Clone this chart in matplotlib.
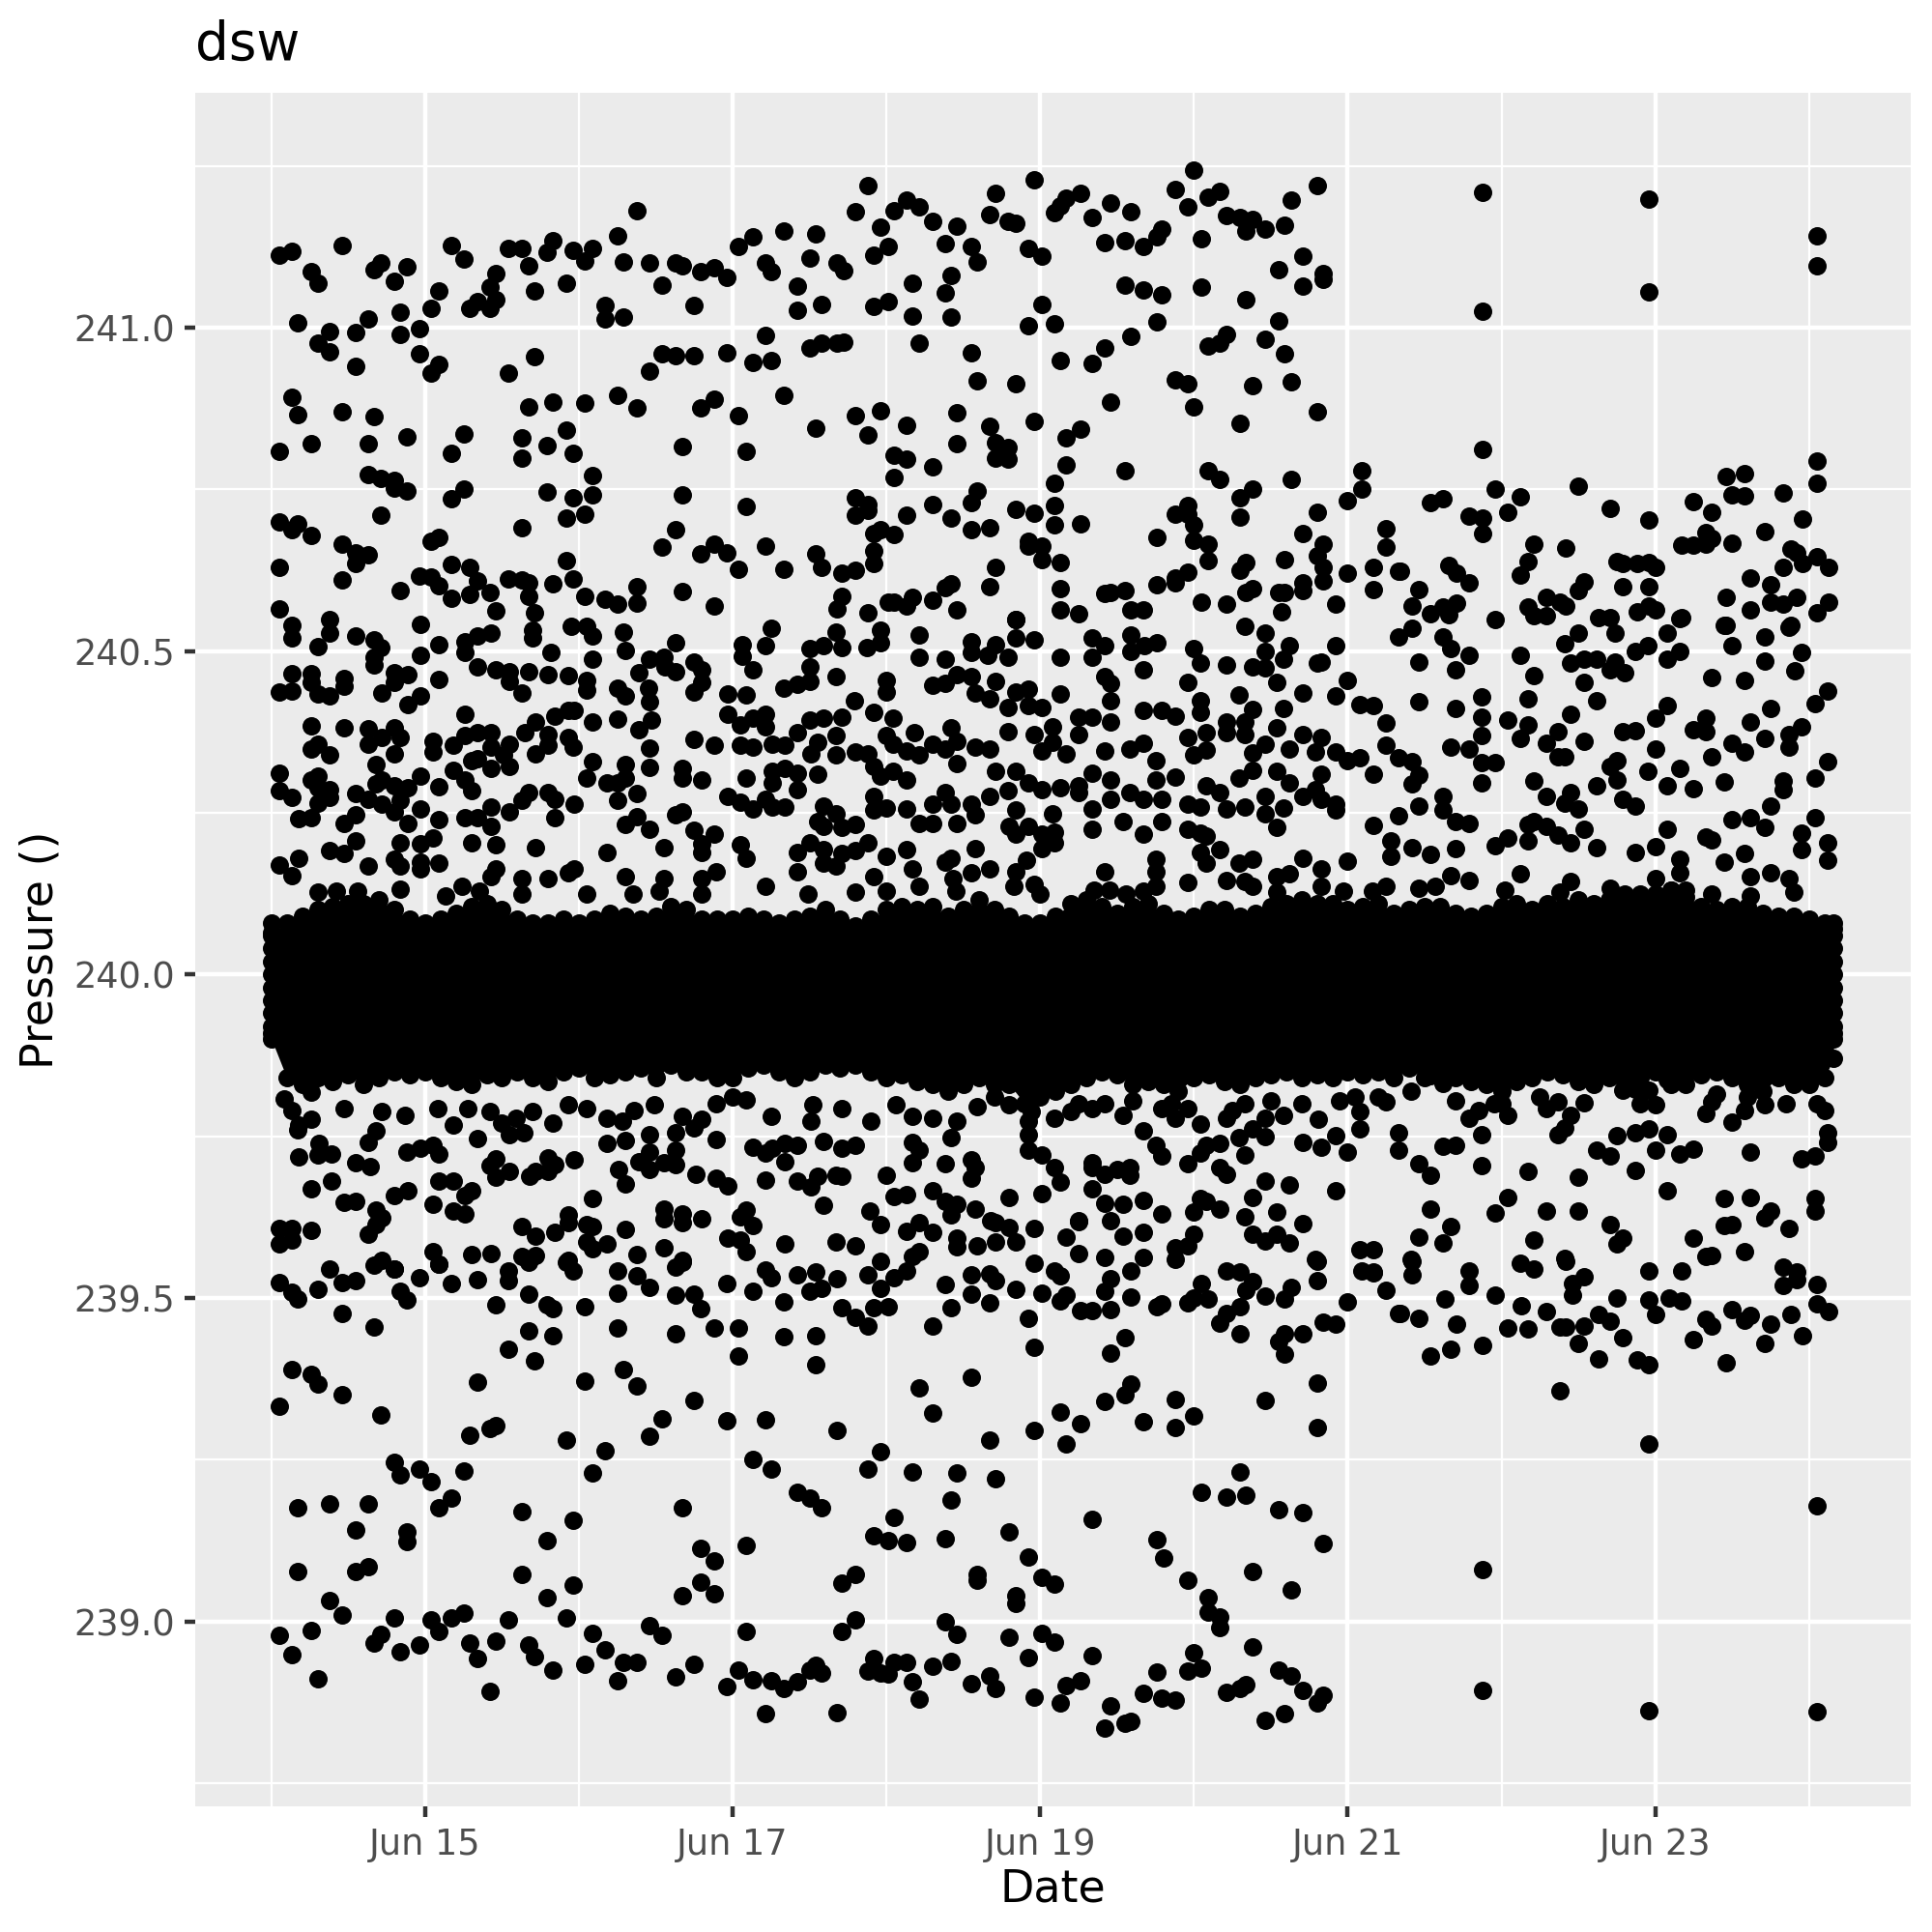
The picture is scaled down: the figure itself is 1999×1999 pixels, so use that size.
import numpy as np
import matplotlib
matplotlib.use("Agg")
import matplotlib.pyplot as plt

# (day of June, pressure), split by region
top_a = [(14.05,241.112),(14.13,241.118),(14.46,241.127),(14.26,241.086),(14.30,241.069),(14.67,241.09),(14.71,241.10),(14.88,241.094),(14.80,241.071),(15.17,241.127),(15.25,241.106),(15.09,241.056),(15.04,241.03),(15.54,241.123),(15.63,241.123),(15.83,241.135),(15.79,241.116),(15.67,241.096),(15.71,241.056),(15.92,241.068),(15.96,241.12),(16.09,241.122),(16.04,241.103),(15.46,241.083),(15.42,241.063),(15.46,241.044),(15.34,241.04),(15.29,241.03),(15.42,241.03),(16.25,241.142),(16.38,241.18),(16.29,241.102),(16.46,241.10),(16.63,241.10),(16.67,241.096),(16.54,241.065),(16.79,241.087),(16.88,241.092),(16.96,241.077),(16.75,241.034),(16.17,241.034),(16.17,241.014),(16.29,241.016),(17.04,241.125),(17.13,241.141),(17.21,241.10),(17.25,241.086),(17.33,241.149),(17.54,241.145),(17.50,241.107),(17.42,241.064),(17.42,241.027),(17.58,241.036),
(14.17,241.008),(14.38,240.994),(14.30,240.976),(14.38,240.962),(14.55,240.993),(14.63,241.013),(14.55,240.94),(14.84,241.024),(14.84,240.989),(14.96,240.998),(14.96,240.96),(15.09,240.943),(15.04,240.93),(15.54,240.93),(15.71,240.955),(16.54,240.959),(16.63,240.957),(16.75,240.956),(16.46,240.933),(16.96,240.961),(17.13,240.946),(17.25,240.949),(17.21,240.988),(17.50,240.969),(17.58,240.976),(14.13,240.893),(14.17,240.865),(14.46,240.87),(14.67,240.862),(14.26,240.821),(14.05,240.809),(14.63,240.821),(14.88,240.831),(15.25,240.835),(15.17,240.805),(15.67,240.878),(15.83,240.885),(16.04,240.884),(16.25,240.895),(16.38,240.876),(16.88,240.89),(16.79,240.876),(17.33,240.895),(17.04,240.864),(17.54,240.844),(15.63,240.83),(15.63,240.798),(15.79,240.817),(15.92,240.842),(15.96,240.806),(16.09,240.772),(16.09,240.741),(15.96,240.737),(15.79,240.746),(16.04,240.712),(15.92,240.705),(15.63,240.69),(16.67,240.816),(17.09,240.809),(16.67,240.741),(17.09,240.724),(16.63,240.687),(16.54,240.661),
(14.63,240.773),(14.71,240.767),(14.80,240.764),(14.80,240.752),(14.88,240.748),(15.17,240.736),(15.25,240.75),(14.71,240.71),(14.05,240.70),(14.17,240.696),(14.13,240.688),(14.26,240.678),(14.46,240.666),(14.55,240.652),(14.63,240.649),(14.55,240.635),(15.04,240.67),(15.09,240.676),(14.05,240.63),(14.46,240.61),(14.84,240.594),(14.96,240.616),(15.04,240.615),(15.09,240.601),(15.17,240.634),(15.29,240.63),(15.34,240.608),(15.29,240.588),(15.17,240.581),(15.42,240.59),(15.46,240.562),(15.54,240.612),(15.63,240.61),(15.67,240.605),(15.67,240.584),(15.71,240.559),(15.83,240.604),(15.96,240.612),(15.92,240.64),(16.04,240.585),(16.17,240.58),(16.25,240.573),(16.38,240.60),(16.38,240.574),(16.67,240.592),(16.88,240.666),(16.79,240.651),(16.96,240.652),(17.04,240.626),(17.21,240.663),(17.33,240.627),(17.54,240.65),(17.58,240.63),(16.88,240.57),(14.05,240.565)]

top_b = [(17.88,241.219),(17.80,241.179),(17.96,241.156),(18.05,241.18),(18.13,241.197),(18.21,241.186),(18.30,241.164),(18.46,241.157),(18.38,241.13),(18.55,241.126),(18.59,241.101),(17.92,241.112),(18.01,241.125),(17.68,241.10),(17.72,241.088),(18.17,241.068),(18.42,241.08),(18.38,241.053),(17.92,241.033),(18.01,241.04),(18.17,241.018),(18.42,241.017),(18.71,241.208),(18.67,241.174),(18.79,241.164),(18.84,241.162),(18.96,241.228),(18.92,241.123),(19.01,241.111),(19.09,241.178),(19.13,241.188),(19.17,241.20),(19.26,241.208),(19.34,241.171),(19.46,241.192),(19.59,241.179),(19.42,241.131),(19.55,241.134),(19.67,241.125),(19.76,241.14),(19.79,241.152),(19.88,241.214),(20.00,241.243),(19.96,241.187),(20.09,241.201),(20.17,241.21),(20.05,241.138),(20.21,241.173),(20.30,241.171),(20.38,241.167),(20.34,241.149),(20.46,241.153),(20.59,241.159),(20.63,241.197),(20.80,241.219),(20.71,241.11),(20.55,241.09),(20.71,241.064),(20.84,241.083),(20.84,241.074),(19.55,241.066),(19.67,241.058),(19.79,241.051),(20.05,241.062),(20.34,241.044),(20.55,241.01),(19.76,241.009),(19.59,240.987),(19.01,241.036),(18.92,241.003),(19.09,241.006),(17.68,240.976),(17.72,240.978),(18.21,240.976),(18.55,240.961),(18.59,240.918),(18.84,240.914),(19.13,240.949),(19.34,240.945),(19.42,240.968),(20.09,240.971),(20.17,240.976),(20.21,240.989),(20.46,240.982),(20.59,240.96),(19.88,240.919),(19.96,240.913),(20.38,240.911),(20.63,240.916),(19.46,240.885),(20.00,240.877),(20.30,240.852),(20.80,240.87),
(17.80,240.864),(17.96,240.872),(17.88,240.834),(18.13,240.849),(18.46,240.868),(18.46,240.82),(18.67,240.847),(18.71,240.822),(18.79,240.814),(18.71,240.798),(18.79,240.797),(18.96,240.855),(19.17,240.83),(19.26,240.843),(19.17,240.788),(19.09,240.759),(18.05,240.802),(18.13,240.797),(18.30,240.785),(18.05,240.769),(19.55,240.779),(20.09,240.779),(20.17,240.766),(20.63,240.766),(21.09,240.779),(21.09,240.75),(21.00,240.733),(18.59,240.747),(18.55,240.729),(18.30,240.727),(17.80,240.737),(17.88,240.726),(17.80,240.71),(17.88,240.717),(18.13,240.71),(18.42,240.706),(18.55,240.688),(18.67,240.691),(18.84,240.719),(18.96,240.713),(19.09,240.725),(19.09,240.695),(19.26,240.696),(17.92,240.682),(17.96,240.687),(18.05,240.68),(17.92,240.655),(17.92,240.636),(17.71,240.62),(17.80,240.625),(18.92,240.67),(19.01,240.662),(18.92,240.662),(19.01,240.642),(19.13,240.637),(18.71,240.629),(18.67,240.60),(18.42,240.604),(18.38,240.598),(19.13,240.597),(19.13,240.564),(18.30,240.578),(18.17,240.583),(18.13,240.569),(18.01,240.576),(18.05,240.576),(18.46,240.564),(17.88,240.559),(17.71,240.585),(17.68,240.565),
(19.76,240.676),(19.88,240.712),(19.96,240.725),(19.96,240.712),(20.00,240.695),(20.00,240.671),(20.09,240.666),(20.09,240.64),(19.96,240.622),(19.88,240.613),(19.88,240.605),(19.76,240.603),(19.55,240.594),(19.46,240.591),(19.42,240.589),(20.30,240.737),(20.38,240.75),(20.30,240.707),(20.80,240.715),(20.71,240.682),(20.84,240.665),(20.80,240.647),(20.84,240.63),(20.59,240.641),(20.34,240.637),(20.30,240.625),(20.84,240.608),(20.71,240.605),(20.71,240.593),(20.59,240.59),(20.55,240.59),(20.38,240.597),(20.34,240.591),(20.05,240.576),(20.21,240.573),(20.92,240.573),(21.00,240.621),(21.17,240.629),(21.17,240.595),(21.25,240.689),(21.25,240.661),(21.34,240.623),(20.57,240.56),(19.25,240.558),(19.67,240.563),(19.59,240.563),(18.84,240.549)]

top_c = [(21.88,241.209),(21.88,241.025),(21.88,240.811),(22.96,241.199),(22.96,241.055),(24.05,241.142),(24.05,241.096),(24.05,240.794),(24.05,240.76),(21.96,240.75),(22.12,240.739),(22.04,240.714),(21.54,240.73),(21.62,240.736),(21.79,240.709),(21.88,240.706),(21.88,240.682),(22.50,240.755),(22.71,240.721),(22.96,240.702),(23.25,240.731),(23.37,240.715),(23.46,240.77),(23.58,240.774),(23.50,240.741),(23.58,240.74),(23.83,240.745),(23.96,240.704),(23.71,240.684),(23.33,240.683),(23.37,240.674),(23.17,240.664),(23.25,240.664),(23.33,240.665),(23.50,240.667),(22.21,240.666),(22.42,240.66),(22.17,240.639),(22.12,240.617),(21.66,240.633),(21.71,240.62),(21.79,240.606),(21.33,240.624),(21.46,240.595),(21.42,240.569),(21.71,240.574),(21.62,240.568),(21.54,240.558),(21.66,240.556),(21.96,240.549),(22.54,240.607),(22.50,240.593),(22.29,240.583),(22.17,240.568),(22.21,240.555),(22.29,240.555),(22.38,240.575),(22.42,240.57),(22.75,240.639),(22.79,240.635),(22.88,240.635),(22.96,240.637),(23.0,240.629),(22.79,240.599),(22.96,240.599),(22.88,240.561),(22.96,240.57),(23.0,240.564),(22.63,240.552),(22.71,240.552),(23.17,240.552),(23.46,240.583),(23.62,240.613),(23.75,240.603),(23.62,240.564),(23.75,240.576),(23.83,240.572),(23.92,240.583),(23.83,240.629),(23.88,240.658),(23.92,240.652),(23.96,240.635),(24.05,240.646),(24.13,240.629),(24.13,240.576),(24.05,240.559),(23.88,240.54),(23.46,240.54)]

mid_upper_a = [(14.13,240.54),(14.13,240.521),(14.38,240.548),(14.38,240.528),(14.30,240.507),(14.55,240.524),(14.67,240.518),(14.71,240.505),(14.67,240.491),(14.67,240.478),(14.97,240.541),(14.97,240.493),(15.09,240.51),(15.26,240.515),(15.26,240.498),(15.34,240.523),(15.43,240.528),(15.34,240.476),(15.46,240.471),(15.55,240.468),(15.55,240.453),(15.63,240.435),(15.67,240.468),(15.80,240.463),(15.93,240.462),(16.05,240.455),(16.05,240.44),(15.82,240.498),(15.70,240.533),(15.70,240.52),(15.95,240.538),(16.05,240.538),(16.09,240.523),(16.09,240.487),(16.29,240.529),(16.30,240.501),(16.63,240.513),(16.46,240.488),(16.55,240.491),(16.56,240.476),(16.39,240.467),(16.63,240.468),(16.75,240.483),(16.80,240.471),(16.80,240.451),(16.75,240.437),(16.45,240.443),(16.46,240.421),(16.25,240.443),(16.30,240.43),(14.13,240.465),(14.26,240.465),(14.47,240.458),(14.47,240.446),(14.26,240.451),(14.05,240.436),(14.13,240.438),(14.30,240.433),(14.38,240.431),(14.80,240.466),(14.89,240.463),(14.80,240.451),(14.72,240.435),(14.97,240.43),(14.89,240.417),(15.09,240.456),(17.06,240.51),(17.06,240.492),(17.13,240.471),(16.97,240.433),(17.09,240.432),(17.21,240.508),(17.25,240.535),(17.50,240.476),(17.50,240.453),(17.42,240.448),(17.33,240.443),(17.67,240.461),(17.67,240.529),(17.71,240.505),(17.59,240.508),(17.50,240.504),(17.96,240.533),(17.96,240.513),(17.87,240.505),(18.00,240.455),(18.00,240.437),(18.21,240.525),(18.21,240.491),(18.38,240.488),(18.55,240.515),(18.55,240.498),(18.66,240.493),(18.71,240.51),(18.79,240.491),(18.84,240.52),(18.96,240.517),(19.13,240.49),(18.84,240.549),(18.30,240.447),(18.38,240.45),(18.46,240.463),(18.55,240.461),(18.71,240.453),(18.58,240.435),(18.67,240.426),(18.79,240.413),(18.84,240.437),(18.92,240.441),(18.92,240.416),(19.01,240.413),(19.13,240.433),(17.79,240.423),(17.92,240.405),(18.04,240.396),(17.71,240.398),(17.59,240.396),(17.50,240.393),
(15.26,240.403),(14.26,240.384),(14.47,240.381),(14.63,240.38),(14.80,240.381),(14.84,240.367),(14.63,240.356),(14.72,240.366),(14.80,240.341),(14.30,240.356),(14.26,240.348),(14.38,240.339),(14.68,240.324),(15.05,240.36),(15.05,240.344),(15.18,240.354),(15.26,240.369),(15.34,240.374),(15.43,240.374),(15.55,240.356),(15.65,240.374),(15.72,240.391),(15.84,240.399),(15.93,240.408),(15.97,240.408),(15.80,240.371),(15.93,240.367),(15.96,240.352),(15.80,240.354),(15.72,240.341),(15.43,240.351),(15.51,240.339),(15.34,240.334),(15.30,240.331),(15.43,240.319),(15.55,240.321),(16.09,240.39),(16.25,240.395),(16.39,240.378),(16.47,240.393),(16.75,240.363),(16.88,240.355),(16.46,240.35),(17.05,240.354),(17.13,240.351),(17.26,240.356),(17.34,240.355),(17.42,240.374),(17.55,240.359),(17.67,240.369),(17.67,240.339),(17.80,240.344),(17.88,240.341),(17.51,240.341),(16.97,240.402),(17.05,240.386),(17.13,240.396),(17.21,240.403),(17.21,240.383),(18.00,240.369),(18.04,240.356),(18.18,240.374),(18.13,240.346),(18.21,240.339),(18.30,240.356),(18.38,240.349),(18.42,240.382),(18.46,240.361),(18.58,240.351),(18.67,240.349),(18.79,240.376),(18.96,240.371),(19.01,240.346),(19.08,240.383),(19.08,240.359),(19.17,240.341),(19.25,240.398)]

mid_upper_b = [(14.05,240.311),(14.30,240.306),(14.26,240.301),(14.05,240.284),(14.13,240.274),(14.30,240.289),(14.38,240.286),(14.38,240.274),(14.30,240.265),(14.55,240.28),(14.68,240.294),(14.72,240.301),(14.80,240.291),(14.89,240.289),(14.63,240.271),(14.72,240.264),(14.84,240.269),(14.80,240.251),(14.97,240.307),(15.18,240.316),(15.26,240.301),(15.09,240.29),(15.30,240.284),(14.97,240.256),(15.43,240.259),(15.55,240.252),(15.67,240.281),(15.63,240.269),(15.80,240.281),(15.84,240.271),(15.97,240.264),(15.84,240.243),(16.09,240.329),(16.05,240.304),(16.18,240.296),(16.25,240.296),(16.30,240.324),(16.30,240.304),(16.46,240.32),(16.38,240.28),(16.25,240.269),(16.67,240.319),(16.67,240.304),(16.80,240.301),(17.09,240.304),(17.26,240.314),(17.34,240.319),(17.26,240.296),(17.42,240.311),(17.55,240.31),(17.42,240.286),(16.97,240.276),(17.05,240.266),(17.13,240.256),(17.21,240.271),(17.26,240.259),(17.34,240.259),(17.92,240.321),(17.96,240.306),(18.04,240.314),(18.13,240.30),(17.92,240.276),(17.92,240.254),(18.00,240.258),(18.13,240.256),(18.30,240.264),(18.38,240.281),(18.42,240.264),(18.46,240.326),(18.55,240.264),(18.67,240.276),(18.71,240.314),(18.84,240.314),(18.79,240.284),(18.92,240.296),(19.01,240.286),(19.13,240.289),(19.25,240.281),(18.84,240.254),
(14.18,240.241),(14.26,240.242),(14.47,240.234),(14.55,240.247),(14.89,240.234),(15.09,240.239),(15.26,240.242),(15.34,240.242),(15.43,240.229),(16.38,240.244),(16.30,240.232),(16.46,240.224),(16.63,240.247),(16.67,240.252),(16.75,240.223),(16.88,240.217),(17.59,240.261),(17.67,240.249),(17.55,240.237),(17.59,240.229),(17.71,240.227),(17.80,240.232),(18.21,240.233),(18.30,240.234),(18.46,240.233),(18.58,240.247),(18.80,240.229),(18.84,240.217),(18.92,240.229),(19.08,240.249),(19.01,240.217),(19.09,240.22),(14.55,240.206),(14.38,240.192),(14.47,240.187),(14.84,240.203),(15.05,240.211),(14.97,240.202),(15.30,240.204),(15.46,240.201),(15.72,240.196),(16.18,240.188),(16.55,240.196),(16.80,240.202),(16.80,240.189),(17.05,240.201),(17.09,240.179),(17.42,240.188),(17.50,240.204),(17.59,240.193),(17.71,240.187),(17.80,240.192),(17.88,240.204),(18.00,240.183),(18.13,240.193),(18.58,240.194),(19.01,240.194),(19.09,240.204),(18.91,240.177),(14.18,240.179),(14.05,240.169),(14.13,240.153),(14.63,240.168),(14.80,240.178),(14.84,240.167),(14.97,240.174),(14.97,240.164),(15.09,240.172),(15.46,240.164),(15.43,240.152),(15.63,240.148),(15.80,240.149),(15.93,240.157),(15.97,240.163),(16.30,240.152),(16.55,240.149),(16.89,240.159),(16.80,240.149),(17.42,240.159),(17.59,240.172),(17.67,240.167),(18.17,240.163),(17.92,240.152),(18.38,240.174),(18.42,240.179),(18.55,240.158),(18.67,240.163),(18.84,240.159),(18.43,240.148),(17.21,240.137),(18.96,240.139),(14.84,240.132),(15.24,240.137),
(14.30,240.127),(14.42,240.129),(14.56,240.129),(15.13,240.122),(15.35,240.129),(15.63,240.125),(16.05,240.125),(16.35,240.125),(16.52,240.129),(16.80,240.125),(17.49,240.125),(17.80,240.127),(18.0,240.129),(18.21,240.137),(18.45,240.129),(18.83,240.137),(19.0,240.124)]

mid_upper_c = [(19.34,240.52),(19.42,240.509),(19.59,240.525),(19.59,240.5),(19.68,240.509),(19.76,240.513),(19.34,240.491),(19.67,240.471),(19.42,240.461),(19.46,240.45),(20.0,240.504),(20.04,240.482),(19.96,240.451),(20.33,240.538),(20.46,240.528),(20.46,240.5),(20.62,240.509),(20.58,240.488),(20.21,240.478),(20.38,240.476),(20.46,240.474),(20.54,240.451),(20.80,240.481),(20.83,240.483),(20.92,240.509),(20.71,240.435),(20.92,240.431),(21.0,240.455),(20.29,240.432),(20.04,240.423),(19.46,240.423),(19.67,240.408),(19.79,240.408),(19.88,240.399),(20.04,240.406),(20.58,240.412),(20.38,240.41),(21.08,240.417),(21.17,240.416),(21.25,240.389),(21.33,240.522),(21.42,240.535),(21.62,240.522),(21.67,240.504),(21.79,240.494),(21.46,240.483),(21.70,240.471),(22.12,240.494),(22.21,240.462),(22.41,240.512),(22.50,240.528),(22.74,240.528),(22.45,240.481),(22.54,240.488),(22.62,240.487),(22.74,240.483),(22.71,240.471),(22.80,240.466),(22.54,240.452),(22.62,240.423),(22.87,240.499),(22.95,240.508),(23.08,240.487),(23.16,240.499),(23.08,240.528),(23.16,240.55),(23.50,240.509),(23.71,240.522),(23.45,240.54),(23.87,240.537),(23.95,240.498),(23.71,240.484),(23.91,240.469),(23.37,240.459),(23.58,240.455),(21.46,240.422),(21.70,240.412),(21.87,240.429),(22.17,240.426),(21.87,240.398),(22.04,240.394),(22.17,240.386),(22.12,240.365),(22.45,240.403),(22.37,240.376),(22.29,240.358),(22.54,240.36),(21.87,240.37),(21.67,240.351),(21.79,240.349),(21.87,240.328),(21.96,240.328),(22.41,240.336),(22.37,240.336),(23.08,240.416),(23.0,240.397),(22.79,240.376),(22.87,240.377),(23.0,240.349),(23.33,240.397),(23.25,240.379),(23.33,240.376),(23.62,240.391),(23.75,240.411),(24.04,240.419),(24.12,240.438),(23.95,240.383),(23.87,240.371),(23.87,240.351),(23.71,240.365),(23.50,240.357),(23.58,240.344),(23.37,240.336),(22.75,240.331),(22.71,240.321),
(19.25,240.371),(19.46,240.39),(19.34,240.398),(19.42,240.346),(19.58,240.349),(19.67,240.358),(19.75,240.331),(19.96,240.367),(20.08,240.374),(20.0,240.339),(20.08,240.347),(20.21,240.391),(20.21,240.374),(20.33,240.391),(20.33,240.371),(20.46,240.356),(20.38,240.343),(20.54,240.381),(20.62,240.348),(20.71,240.371),(20.79,240.344),(20.83,240.366),(20.92,240.344),(21.0,240.33),(21.08,240.335),(21.25,240.354),(21.33,240.335),(21.42,240.329),(21.46,240.308),(21.17,240.31),(21.42,240.294)]

mid_upper_d = [(19.34,240.311),(19.46,240.301),(19.25,240.291),(19.46,240.271),(19.58,240.282),(19.67,240.271),(19.75,240.301),(19.79,240.271),(19.88,240.305),(20.08,240.292),(20.17,240.282),(19.96,240.264),(20.04,240.259),(20.21,240.256),(20.33,240.259),(20.38,240.316),(20.29,240.303),(20.54,240.314),(20.62,240.296),(20.83,240.31),(20.79,240.286),(20.71,240.276),(20.46,240.275),(20.46,240.249),(20.58,240.257),(20.83,240.271),(20.92,240.264),(20.92,240.254),(19.34,240.256),(21.62,240.276),(21.46,240.26),(21.62,240.254),(21.33,240.245),(21.70,240.237),(21.79,240.234),(21.87,240.296),(22.21,240.299),(22.29,240.275),(22.45,240.281),(22.41,240.265),(22.50,240.256),(22.75,240.301),(22.62,240.292),(22.79,240.271),(22.87,240.26),(22.95,240.314),(23.08,240.292),(23.16,240.319),(23.25,240.288),(23.45,240.298),(23.83,240.299),(23.83,240.286),(24.04,240.304),(24.12,240.329),(23.75,240.261),
(19.34,240.224),(19.54,240.237),(19.67,240.217),(19.79,240.237),(19.96,240.224),(20.04,240.218),(20.08,240.214),(20.54,240.227),(20.04,240.189),(20.17,240.193),(21.17,240.23),(21.28,240.207),(21.42,240.196),(21.54,240.185),(21.70,240.195),(21.28,240.182),(21.96,240.199),(22.04,240.211),(22.17,240.207),(22.17,240.232),(22.21,240.237),(22.29,240.229),(22.37,240.215),(22.45,240.203),(22.54,240.224),(22.62,240.196),(23.08,240.225),(22.87,240.189),(23.0,240.197),(23.33,240.212),(23.37,240.208),(23.50,240.239),(23.62,240.243),(23.71,240.228),(24.04,240.242),(23.95,240.219),(23.95,240.193),(24.12,240.203),(24.12,240.176),(19.75,240.178),(19.75,240.159),(20.08,240.172),(20.29,240.172),(20.38,240.178),(20.71,240.179),(20.83,240.164),(21.0,240.175),(23.16,240.178),(23.16,240.157),(23.58,240.187),(23.45,240.174),(19.42,240.159),(20.21,240.146),(19.96,240.142),(20.33,240.144),(20.38,240.137),(20.62,240.156),(20.54,240.152),(19.75,240.137),(19.67,240.129),(21.67,240.153),(21.79,240.146),(22.12,240.156),(22.45,240.144),(23.0,240.149),(23.62,240.151),(23.75,240.158),(23.87,240.148),(21.25,240.137),(21.46,240.134),(22.71,240.134),(21.16,240.129),(21.57,240.137),
(19.35,240.13),(19.45,240.13),(19.56,240.125),(20.54,240.127),(20.83,240.137),(20.97,240.129),(22.02,240.13),(22.38,240.127),(22.8,240.125),(23.1,240.13),(23.2,240.13),(23.37,240.125),(23.62,240.122),(23.9,240.127)]

mid_lower_a = [(14.26,239.818),(14.47,239.793),(14.18,239.768),(14.26,239.776),(14.68,239.758),(14.63,239.741),(14.31,239.739),(14.18,239.718),(14.30,239.721),(14.39,239.723),(14.55,239.709),(14.64,239.703),(14.39,239.68),(14.26,239.669),(14.47,239.648),(14.55,239.649),(14.72,239.788),(14.87,239.783),(14.88,239.725),(14.97,239.731),(15.05,239.736),(15.09,239.723),(15.18,239.768),(15.34,239.746),(15.55,239.753),(15.64,239.756),(15.83,239.771),(15.93,239.798),(16.05,239.793),(16.18,239.739),(16.30,239.744),(16.46,239.752),(16.63,239.755),(16.67,239.781),(16.80,239.776),(16.75,239.763),(16.89,239.745),(16.63,239.729),(16.46,239.726),(16.39,239.711),(16.46,239.699),(16.55,239.709),(16.63,239.706),(16.26,239.699),(16.30,239.676),(16.76,239.691),(16.89,239.685),(16.97,239.673),(15.46,239.715),(15.42,239.704),(15.55,239.695),(15.46,239.686),(15.68,239.688),(15.72,239.695),(15.80,239.716),(15.84,239.706),(15.80,239.696),(15.97,239.714),(15.09,239.68),(15.18,239.68),(15.30,239.665),(15.26,239.659),(14.80,239.659),(14.89,239.665),(15.05,239.645),(15.18,239.635),(15.26,239.63),(14.68,239.636),(14.72,239.624),(14.68,239.614),(14.63,239.599),(16.09,239.654),(15.93,239.629),(15.93,239.617),(16.05,239.614),(16.09,239.611),(15.63,239.611),(15.72,239.595),(15.84,239.602),(16.05,239.586),(16.09,239.576),(16.18,239.583),(16.30,239.606),(16.55,239.638),(16.55,239.623),(16.67,239.63),(16.67,239.617),(16.80,239.623),(17.09,239.636),(17.05,239.625),(17.13,239.612),(16.97,239.592),(17.05,239.589),(17.09,239.572),(17.34,239.584),(17.67,239.586),(17.80,239.581),(16.55,239.577),(16.38,239.567),(16.67,239.558),(15.05,239.572),(15.09,239.552),(15.30,239.567),(15.43,239.568),(15.63,239.564),(15.72,239.565),(15.93,239.558),(14.72,239.558),(14.80,239.545),(14.05,239.608),(14.13,239.608),(14.26,239.605),(14.05,239.583),(14.13,239.59),
(17.13,239.733),(17.21,239.724),(17.26,239.731),(17.34,239.739),(17.42,239.736),(17.34,239.711),(17.59,239.742),(17.71,239.731),(17.80,239.736),(17.21,239.682),(17.42,239.68),(17.51,239.672),(17.55,239.688),(17.67,239.689),(17.71,239.688),(18.0,239.69),(18.05,239.657),(18.13,239.66),(18.30,239.666),(18.38,239.65),(18.46,239.645),(18.42,239.629),(18.58,239.637),(17.89,239.635),(17.96,239.614),(17.59,239.643),(18.17,239.741),(18.21,239.729),(18.17,239.709),(18.38,239.708),(18.55,239.714),(18.58,239.701),(18.55,239.685),(18.42,239.748),(18.46,239.773),(18.30,239.778),(18.17,239.781),(19.01,239.721),(18.92,239.728),(18.92,239.753),(19.09,239.701),(19.13,239.679),(19.01,239.661),(18.80,239.655),(18.71,239.617),(18.68,239.619),(18.80,239.609),(18.71,239.587),(18.84,239.587),(18.96,239.608),(19.17,239.594),(19.25,239.619),(18.46,239.592),(18.46,239.579),(18.59,239.58),(18.13,239.603),(18.21,239.617),(18.30,239.602),(18.21,239.572),(18.17,239.564),(17.96,239.557),
(14.08,239.808),(15.08,239.793),(15.28,239.793),(15.42,239.788),(15.59,239.778),(15.70,239.788),(16.18,239.778),(16.28,239.773),(16.49,239.798),(16.89,239.80),(17.09,239.806),(17.25,239.781),(17.51,239.773),(17.52,239.798),(17.71,239.793),(17.90,239.773),(18.06,239.798),(18.59,239.796),(18.80,239.798),(18.94,239.788),(19.09,239.778),(19.2,239.788),(18.92,239.773),(14.13,239.79),(14.17,239.76),(15.5,239.77),(16.36,239.79),(17.0,239.81),(18.7,239.81)]

mid_lower_b = [(19.67,239.758),(19.75,239.736),(19.79,239.719),(19.96,239.707),(20.08,239.736),(20.17,239.739),(20.04,239.724),(20.17,239.701),(20.21,239.691),(20.29,239.748),(20.33,239.721),(20.46,239.749),(20.38,239.761),(20.46,239.68),(20.62,239.674),(20.38,239.655),(20.92,239.666),(20.71,239.741),(20.83,239.733),(20.92,239.751),(21.0,239.725),(21.08,239.762),(21.33,239.755),(21.33,239.729),(21.46,239.708),(21.54,239.689),(21.62,239.734),(21.70,239.736),(21.87,239.704),(21.87,239.753),(22.17,239.695),(22.37,239.752),(22.41,239.763),(22.45,239.783),(22.54,239.801),(22.29,239.792),(22.37,239.803),(22.50,239.687),(22.62,239.729),(22.71,239.72),(22.75,239.751),(22.87,239.755),(22.96,239.762),(23.0,239.729),(23.08,239.753),(23.16,239.722),(23.25,239.73),(22.87,239.697),(23.08,239.666),(23.62,239.725),(23.95,239.715),(24.04,239.72),(24.12,239.756),(24.12,239.741),(23.50,239.772),(23.33,239.785),(23.37,239.803),(23.58,239.789),(23.71,239.798),(23.08,239.837),(23.0,239.798),(22.79,239.821),(22.87,239.822),(22.96,239.821),(21.41,239.82),(21.54,239.843),(21.62,239.832),(21.70,239.804),(21.79,239.778),(22.04,239.782),(21.25,239.803),(21.08,239.788),(20.81,239.776),(20.04,239.769),(19.88,239.778),(19.79,239.792),(19.96,239.792),(19.54,239.782),(19.34,239.793),(20.58,239.783),(20.46,239.778),(20.21,239.778),
(19.34,239.709),(19.34,239.701),(19.42,239.691),(19.50,239.699),(19.58,239.701),(19.58,239.69),(19.34,239.669),(19.42,239.647),(19.54,239.645),(19.67,239.651),(19.79,239.63),(20.0,239.633),(20.04,239.654),(20.08,239.649),(20.17,239.638),(20.33,239.626),(20.54,239.633),(20.71,239.615),(19.25,239.618),(19.46,239.619),(19.54,239.596),(19.67,239.601),(20.0,239.598),(19.96,239.58),(19.88,239.577),(19.88,239.559),(20.38,239.599),(20.46,239.588),(20.54,239.599),(20.62,239.585),(19.25,239.569),(19.42,239.563),(19.67,239.562),(20.79,239.559),(21.08,239.575),(21.17,239.575),(21.41,239.559),(21.46,239.594),(21.62,239.585),(21.67,239.611),(21.54,239.637),(21.96,239.631),(22.04,239.656),(22.29,239.635),(22.50,239.634),(22.71,239.614),(22.79,239.592),(22.75,239.583),(22.21,239.589),(22.41,239.561),(23.25,239.593),(23.33,239.564),(23.37,239.566),(23.45,239.612),(23.50,239.614),(23.45,239.654),(23.62,239.656),(23.75,239.634),(23.71,239.624),(23.87,239.607),(24.04,239.654),(24.04,239.635),(23.58,239.572),
(19.25,239.80),(19.42,239.80),(19.6,239.805),(19.85,239.80),(20.25,239.79),(20.33,239.80),(20.5,239.805),(20.7,239.80),(20.95,239.805),(21.05,239.81),(21.2,239.81),(22.0,239.80),(22.25,239.81),(22.9,239.80),(23.4,239.815),(23.6,239.81),(23.85,239.80),(24.05,239.80),(24.1,239.79),(21.85,239.79),(21.95,239.80)]

low_a = [(14.05,239.524),(14.13,239.509),(14.17,239.499),(14.30,239.513),(14.38,239.545),(14.46,239.524),(14.55,239.527),(14.67,239.55),(14.80,239.545),(14.96,239.532),(14.84,239.51),(14.88,239.497),(15.09,239.552),(15.17,239.522),(15.34,239.529),(15.54,239.542),(15.54,239.527),(15.67,239.506),(15.67,239.555),(15.96,239.542),(15.92,239.555),(15.46,239.489),(15.79,239.49),(15.83,239.483),(16.04,239.487),(16.25,239.541),(16.25,239.508),(16.38,239.534),(16.46,239.516),(16.63,239.504),(16.63,239.547),(16.67,239.555),(16.75,239.506),(16.79,239.483),(16.96,239.522),(17.13,239.51),(17.21,239.543),(17.25,239.531),(17.42,239.535),(17.54,239.54),(17.50,239.51),(17.58,239.515),(17.33,239.494),(14.46,239.476),(14.67,239.455),(15.67,239.449),(15.83,239.441),(15.54,239.42),(15.71,239.403),(16.25,239.454),(16.63,239.445),(16.88,239.454),(17.04,239.453),(17.04,239.41),(17.33,239.44),(17.54,239.442),(17.54,239.397),(14.13,239.389),(14.26,239.382),(14.30,239.367),(14.46,239.35),(14.05,239.332),(14.71,239.319),(15.34,239.37),(16.04,239.372),(16.29,239.39),(16.38,239.364),(16.75,239.342),(16.96,239.31),(17.21,239.311),(16.54,239.313),(16.46,239.286),(15.92,239.281),(16.17,239.264),(16.09,239.23),(15.29,239.287),(15.42,239.298),(15.46,239.302),(14.80,239.246),(14.84,239.227),(14.96,239.236),(15.04,239.216),(15.25,239.232),(15.17,239.191),(15.09,239.175),(14.17,239.175),(14.38,239.182),(14.63,239.181),(14.55,239.141),(14.88,239.139),(14.88,239.124),(15.63,239.17),(15.96,239.156),(15.79,239.125),(16.67,239.175),(17.13,239.25),(17.25,239.236),(17.42,239.20),(17.50,239.19),(17.58,239.175),(17.09,239.117),(16.79,239.113),(16.88,239.094),(16.79,239.061),(16.88,239.042),(16.67,239.039),(14.17,239.077),(14.55,239.077),(14.63,239.085),(15.63,239.073),(15.96,239.056),(15.79,239.036),(14.38,239.032),(14.46,239.01),(14.80,239.005),(15.04,239.002),(15.17,239.005),(15.25,239.013),(15.09,238.985),(15.54,239.002),(15.92,239.006),(16.09,238.982),(14.05,238.978),(14.26,238.986),(14.13,238.949),(14.30,238.911),(14.67,238.966),(14.71,238.98),(14.84,238.953),(14.96,238.963),(15.29,238.966),(15.46,238.969),(15.34,238.943),(15.67,238.964),(15.71,238.945),(15.83,238.925),(16.04,238.934),(16.17,238.956),(16.29,238.937),(16.38,238.937),(16.25,238.908),(16.46,238.993),(16.54,238.978),(17.09,238.984),(16.75,238.934),(16.63,238.914),(16.96,238.90),(17.04,238.925),(17.13,238.91),(17.25,238.908),(17.33,238.897),(17.42,238.906),(17.50,238.925),(17.54,238.932),(17.58,238.92),(15.42,238.892),(17.21,238.858)]

low_b = [(17.88,239.536),(17.96,239.515),(18.05,239.532),(18.13,239.542),(17.68,239.53),(18.38,239.521),(18.55,239.535),(18.55,239.506),(18.67,239.537),(18.71,239.527),(18.84,239.513),(18.67,239.493),(18.42,239.485),(19.01,239.508),(19.09,239.542),(19.13,239.534),(19.17,239.505),(19.13,239.495),(18.96,239.554),(19.46,239.53),(19.42,239.51),(19.59,239.541),(19.59,239.501),(19.46,239.482),(19.26,239.48),(19.34,239.48),(19.76,239.486),(19.79,239.491),(19.96,239.493),(20.05,239.522),(20.09,239.498),(20.00,239.50),(20.21,239.541),(20.30,239.54),(20.38,239.526),(20.34,239.512),(20.30,239.487),(20.21,239.476),(20.17,239.461),(20.30,239.445),(20.46,239.503),(20.59,239.498),(20.63,239.516),(20.80,239.527),(20.80,239.556),(21.00,239.494),(21.09,239.542),(21.17,239.54),(21.25,239.512),(21.34,239.476),(17.71,239.485),(17.80,239.47),(17.88,239.456),(17.92,239.485),(18.01,239.486),(18.30,239.456),(18.92,239.469),(18.96,239.423),(19.55,239.439),(19.46,239.414),(20.59,239.444),(20.55,239.433),(20.59,239.413),(20.71,239.444),(20.84,239.463),(20.92,239.459),(18.55,239.377),(18.21,239.361),(18.30,239.322),(19.59,239.367),(19.55,239.351),(19.42,239.34),(19.13,239.324),(19.26,239.306),(18.96,239.295),(19.17,239.274),(18.67,239.28),(19.67,239.309),(19.88,239.343),(19.88,239.30),(20.00,239.317),(20.46,239.341),(20.80,239.369),(20.80,239.30),(17.68,239.295),(17.96,239.262),(17.88,239.235),(18.17,239.231),(18.46,239.229),(18.71,239.22),(18.42,239.187),(18.05,239.161),(17.92,239.132),(18.01,239.125),(18.13,239.122),(18.38,239.128),(18.80,239.138),(19.34,239.158),(19.76,239.127),(19.80,239.098),(18.92,239.099),(19.01,239.068),(19.09,239.057),(18.59,239.072),(18.59,239.063),(18.84,239.04),(18.84,239.028),(17.80,239.072),(17.71,239.059),(20.05,239.20),(20.30,239.231),(20.21,239.192),(20.34,239.195),(20.55,239.173),(20.71,239.168),(20.84,239.12),(20.38,239.077),(20.63,239.048),(19.96,239.063),(20.09,239.037),(20.09,239.014),(20.17,239.007),(20.17,238.99),(17.80,239.003),(17.71,238.985),(18.38,239.0),(18.46,238.98),(18.80,238.975),(19.01,238.982),(19.09,238.968),(18.92,238.944),(19.34,238.947),(20.00,238.951),(20.38,238.961),(17.92,238.942),(17.88,238.923),(17.96,238.92),(18.01,238.919),(18.05,238.936),(18.13,238.936),(18.30,238.93),(18.42,238.938),(18.17,238.906),(18.21,238.88),(18.55,238.904),(18.67,238.916),(18.71,238.897),(18.96,238.883),(19.13,238.874),(19.17,238.901),(19.26,238.908),(19.46,238.869),(19.42,238.835),(19.55,238.842),(19.59,238.846),(19.67,238.889),(19.76,238.922),(19.79,238.881),(19.88,238.878),(19.96,238.923),(20.05,238.927),(20.21,238.891),(20.30,238.896),(20.34,238.903),(20.55,238.924),(20.63,238.916),(20.71,238.894),(20.84,238.886),(20.80,238.874),(20.59,238.858),(20.46,238.847),(17.68,238.859)]

low_c = [(21.88,239.08),(21.88,238.894),(22.96,239.274),(22.96,238.862),(24.05,239.179),(24.05,238.86),(21.17,239.539),(21.42,239.536),(21.42,239.557),(21.33,239.476),(21.46,239.469),(21.63,239.499),(21.79,239.541),(21.79,239.52),(21.96,239.505),(22.12,239.554),(22.21,239.545),(22.13,239.488),(21.71,239.459),(21.67,239.42),(21.54,239.41),(21.88,239.426),(22.04,239.454),(22.17,239.452),(22.29,239.479),(22.38,239.455),(22.42,239.455),(22.54,239.456),(22.50,239.429),(22.46,239.522),(22.54,239.533),(22.46,239.504),(22.42,239.557),(22.63,239.475),(22.71,239.464),(22.79,239.439),(22.75,239.50),(22.63,239.406),(22.88,239.404),(22.96,239.397),(22.96,239.497),(23.0,239.474),(23.09,239.50),(23.17,239.496),(23.17,239.541),(22.96,239.542),(22.38,239.357),(23.25,239.435),(23.33,239.467),(23.37,239.456),(23.46,239.40),(23.50,239.482),(23.58,239.466),(23.62,239.473),(23.71,239.43),(23.75,239.459),(23.88,239.474),(23.96,239.442),(24.05,239.491),(24.13,239.479),(23.83,239.547),(23.92,239.54),(23.83,239.519),(23.92,239.528),(24.05,239.521)]

# solid band where the points overplot: upper and lower edge through time
band_days = [14.0,14.1,14.2,14.3,14.4,14.5,14.6,14.7,14.8,14.9,15.0,15.1,15.2,15.3,15.4,15.5,15.6,15.7,15.8,15.9,16.0,16.1,16.2,16.3,16.4,16.5,16.6,16.7,16.8,16.9,17.0,17.1,17.2,17.3,17.4,17.5,17.6,17.7,17.8,17.9,18.0,18.1,18.2,18.3,18.4,18.5,18.6,18.7,18.8,18.9,19.0,19.1,19.2,19.3,19.4,19.5,19.6,19.7,19.8,19.9,20.0,20.1,20.2,20.3,20.4,20.5,20.6,20.7,20.8,20.9,21.0,21.1,21.2,21.3,21.4,21.5,21.6,21.7,21.8,21.9,22.0,22.1,22.2,22.3,22.4,22.5,22.6,22.7,22.8,22.9,23.0,23.1,23.2,23.3,23.4,23.5,23.6,23.7,23.8,23.9,24.0,24.1,24.16]
band_high = [240.065,240.08,240.09,240.10,240.105,240.11,240.11,240.115,240.10,240.085,240.08,240.085,240.095,240.105,240.11,240.10,240.085,240.08,240.08,240.085,240.08,240.085,240.095,240.09,240.085,240.09,240.105,240.10,240.085,240.085,240.085,240.09,240.085,240.08,240.085,240.09,240.10,240.085,240.075,240.085,240.10,240.105,240.10,240.105,240.09,240.10,240.115,240.10,240.09,240.08,240.08,240.09,240.11,240.115,240.105,240.095,240.105,240.11,240.095,240.085,240.09,240.10,240.10,240.09,240.095,240.105,240.11,240.115,240.11,240.11,240.10,240.105,240.11,240.095,240.10,240.105,240.105,240.095,240.09,240.095,240.105,240.11,240.10,240.11,240.105,240.115,240.11,240.115,240.12,240.125,240.125,240.13,240.12,240.105,240.10,240.105,240.105,240.095,240.09,240.09,240.085,240.08,240.07]
band_low = [239.90,239.84,239.83,239.84,239.835,239.845,239.83,239.84,239.85,239.845,239.85,239.84,239.835,239.83,239.845,239.84,239.85,239.84,239.835,239.85,239.855,239.84,239.845,239.85,239.855,239.84,239.86,239.85,239.85,239.84,239.84,239.855,239.86,239.85,239.84,239.85,239.86,239.855,239.86,239.85,239.84,239.845,239.835,239.83,239.82,239.83,239.84,239.83,239.83,239.80,239.81,239.82,239.83,239.84,239.85,239.845,239.83,239.835,239.83,239.82,239.84,239.845,239.835,239.83,239.84,239.845,239.85,239.84,239.845,239.84,239.85,239.845,239.85,239.84,239.855,239.84,239.85,239.84,239.835,239.83,239.82,239.835,239.84,239.85,239.845,239.835,239.83,239.84,239.835,239.84,239.85,239.83,239.83,239.845,239.85,239.84,239.83,239.82,239.84,239.83,239.83,239.84,239.87]
band_left = [240.08,240.06,240.04,240.02,240.0,239.98,239.96,239.94,239.92,239.91]
band_right = [240.08,240.06,240.04,240.02,240.0,239.98,239.96,239.94,239.92,239.91,239.90]
band_left_day = 14.0
band_right_day = 24.16

major_x = [15, 17, 19, 21, 23]
minor_x = [14, 16, 18, 20, 22, 24]
x_labels = ["Jun 15", "Jun 17", "Jun 19", "Jun 21", "Jun 23"]
major_y = [239.0, 239.5, 240.0, 240.5, 241.0]
minor_y = [238.75, 239.25, 239.75, 240.25, 240.75, 241.25]

groups = [top_a, top_b, top_c, mid_upper_a, mid_upper_b, mid_upper_c, mid_upper_d, mid_lower_a, mid_lower_b, low_a, low_b, low_c]
points = np.array([p for g in groups for p in g])

W = 1999.0
fig = plt.figure(figsize=(W/300, W/300), dpi=300)
ax = fig.add_axes([201.8/W, 1-1869/W, (1976.7-201.8)/W, (1869-96)/W])
ax.set_facecolor("#EBEBEB")
for s in ax.spines.values():
	s.set_visible(False)
ax.set_xlim(13.503, 24.66)
ax.set_ylim(238.714, 241.363)

ax.set_xticks(major_x)
ax.set_xticklabels(x_labels)
ax.set_xticks(minor_x, minor=True)
ax.set_yticks(major_y)
ax.set_yticklabels(["239.0", "239.5", "240.0", "240.5", "241.0"])
ax.set_yticks(minor_y, minor=True)
ax.grid(which="major", color="white", linewidth=1.07)
ax.grid(which="minor", color="white", linewidth=0.53)
ax.set_axisbelow(True)
ax.tick_params(which="major", length=2.75, width=1.07, color="#333333", labelcolor="#4D4D4D", labelsize=8.8, pad=2.2)
ax.tick_params(which="minor", length=0)

marker = 20.8
ax.fill_between(band_days, band_low, band_high, color="black", linewidth=0, zorder=3)
ax.scatter(band_days, band_high, s=marker, c="black", linewidths=0, zorder=3)
ax.scatter(band_days, band_low, s=marker, c="black", linewidths=0, zorder=3)
ax.scatter([band_left_day]*len(band_left), band_left, s=marker, c="black", linewidths=0, zorder=3)
ax.scatter([band_right_day]*len(band_right), band_right, s=marker, c="black", linewidths=0, zorder=3)
ax.scatter(points[:, 0], points[:, 1], s=marker, c="black", linewidths=0, zorder=3)

fig.text(201.8/W, 1-62/W, "dsw", fontsize=13.2, color="black", ha="left", va="baseline")
fig.text((201.8+1976.7)/2/W, 1-1967/W, "Date", fontsize=11, color="black", ha="center", va="baseline")
fig.text(42/W, 1-983/W, "Pressure ()", fontsize=11, color="black", rotation=90, ha="center", va="center")

fig.savefig("out.png", dpi=300)
